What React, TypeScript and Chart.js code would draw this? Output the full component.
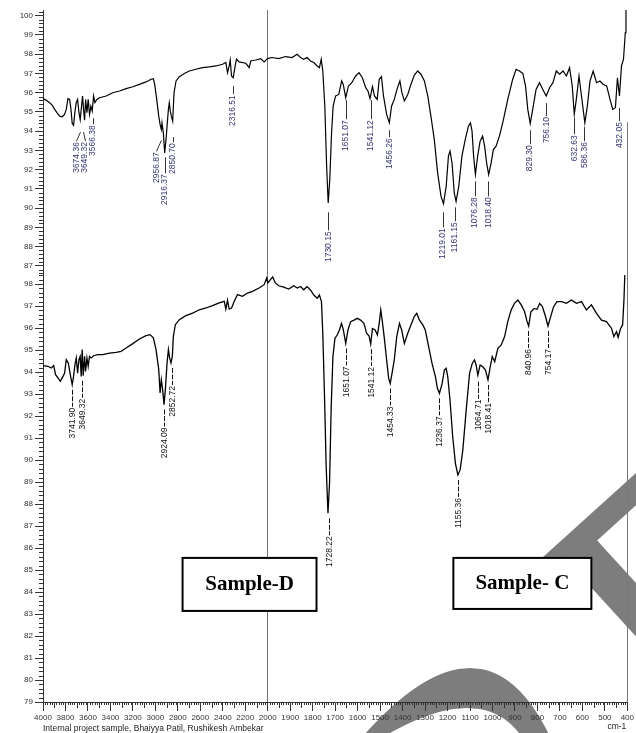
import React, { useEffect, useRef } from 'react';
import { Chart, registerables } from 'chart.js';

Chart.register(...registerables);

// ---------- DATA ----------
const xTickLabels = ['4000','3800','3600','3400','3200','3000','2800','2600','2400','2200','2000','1900','1800','1700','1600','1500','1400','1300','1200','1100','1000','900','800','700','600','500','400'];

// Sample C (upper trace): [wavenumber cm-1, %T]
const sampleCSpectrum: number[][] = [
  [4000,95.69],[3970,95.6],[3941,95.48],[3917,95.34],[3896,95.13],[3876,94.96],[3852,94.78],[3828,94.75],[3808,94.87],[3793,95.13],
  [3778,95.69],[3763,95.65],[3751,95.13],[3740,94.4],[3728,94.3],[3716,95.0],[3704,95.48],[3692,95.65],[3680,94.96],[3669,94.6],
  [3657,95.3],[3648,95.83],[3639,95.13],[3630,94.57],[3621,95.65],[3609,94.96],[3598,95.65],[3586,94.87],[3574,95.3],[3562,95.04],
  [3550,95.83],[3538,95.48],[3521,95.65],[3497,95.74],[3438,95.83],[3379,96.0],[3319,96.09],[3260,96.21],[3201,96.31],[3142,96.43],
  [3083,96.56],[3038,96.7],[3018,96.73],[3006,96.43],[2988,95.65],[2970,94.78],[2958,94.35],[2947,94.09],[2941,94.43],[2929,93.91],
  [2917,92.87],[2905,93.57],[2896,94.26],[2884,95.13],[2876,95.48],[2867,95.04],[2858,94.78],[2846,94.52],[2834,96.0],[2816,96.61],
  [2787,96.83],[2742,97.0],[2698,97.13],[2639,97.22],[2580,97.3],[2520,97.34],[2461,97.39],[2402,97.48],[2373,97.57],[2358,97.04],
  [2343,97.39],[2334,97.7],[2322,96.87],[2307,96.78],[2290,97.39],[2278,97.74],[2254,97.6],[2195,97.53],[2165,97.3],[2151,97.65],
  [2106,97.7],[2062,97.77],[2032,97.6],[2003,97.77],[1981,97.83],[1951,97.77],[1921,97.88],[1892,97.83],[1869,98.0],[1854,97.83],
  [1840,97.74],[1825,97.83],[1810,97.65],[1795,97.57],[1780,97.39],[1770,97.3],[1762,97.74],[1755,97.13],[1746,95.3],[1738,92.17],
  [1731,90.26],[1724,91.48],[1716,93.91],[1709,95.3],[1698,95.83],[1684,95.91],[1671,96.61],[1664,96.43],[1653,95.74],[1641,96.35],
  [1626,96.52],[1609,96.87],[1594,97.04],[1579,96.78],[1564,96.26],[1554,96.09],[1545,95.69],[1534,96.31],[1525,95.83],[1513,95.65],
  [1504,96.7],[1494,96.83],[1485,95.83],[1471,94.87],[1459,94.43],[1449,95.3],[1437,95.65],[1425,96.17],[1412,96.61],[1403,96.0],
  [1392,95.57],[1377,95.91],[1363,96.43],[1348,96.9],[1333,97.13],[1318,96.96],[1303,96.61],[1288,95.83],[1274,94.78],[1259,93.57],
  [1244,91.83],[1229,90.61],[1218,90.23],[1206,91.13],[1196,92.7],[1189,92.96],[1180,92.35],[1170,90.78],[1162,90.35],[1150,91.13],
  [1136,92.7],[1121,93.57],[1107,94.26],[1098,94.43],[1091,94.0],[1084,92.7],[1076,91.74],[1066,92.7],[1055,93.48],[1044,93.74],
  [1035,93.22],[1026,92.35],[1017,91.74],[1006,92.35],[996,93.04],[984,93.22],[969,93.74],[951,94.61],[932,95.65],[910,96.7],
  [895,97.22],[880,97.13],[865,97.0],[853,96.35],[843,95.13],[832,94.4],[821,95.13],[806,96.17],[791,96.52],[776,96.17],
  [761,95.83],[746,96.26],[731,96.52],[716,97.13],[701,96.96],[686,97.13],[671,96.87],[657,97.3],[645,96.35],[636,94.87],
  [627,95.65],[615,96.87],[604,95.83],[589,94.43],[578,95.3],[566,96.61],[552,97.13],[537,96.52],[522,96.61],[507,96.43],
  [492,96.35],[477,95.65],[465,95.13],[453,95.22],[444,96.78],[435,95.83],[426,97.39],[417,97.74],[409,99.13],[406,100.35]
];

// Sample D (lower trace): [wavenumber cm-1, %T]
const sampleDSpectrum: number[][] = [
  [4000,94.29],[3956,94.26],[3926,94.18],[3905,94.29],[3888,93.88],[3867,93.73],[3846,93.58],[3822,93.8],[3808,93.95],[3793,94.56],
  [3775,94.41],[3757,93.88],[3740,93.42],[3728,93.8],[3716,94.33],[3704,94.64],[3692,93.95],[3680,94.56],[3669,94.71],[3660,93.8],
  [3651,95.02],[3642,93.83],[3630,94.71],[3621,94.03],[3609,94.64],[3598,94.26],[3586,94.71],[3571,94.64],[3550,94.74],[3512,94.79],
  [3467,94.79],[3408,94.86],[3349,94.89],[3305,94.94],[3260,95.09],[3201,95.29],[3142,95.5],[3083,95.65],[3047,95.7],[3018,95.55],
  [2994,95.02],[2970,94.11],[2958,93.05],[2947,93.65],[2935,93.2],[2923,92.52],[2911,93.2],[2896,94.41],[2884,95.02],[2873,94.64],
  [2861,94.41],[2849,94.71],[2840,95.62],[2822,96.15],[2787,96.38],[2728,96.56],[2668,96.68],[2609,96.83],[2550,96.91],[2491,97.02],
  [2432,97.14],[2387,97.21],[2373,96.86],[2358,97.26],[2343,96.86],[2322,96.91],[2299,97.21],[2269,97.52],[2225,97.44],[2180,97.59],
  [2136,97.67],[2077,97.82],[2032,97.97],[2009,98.27],[2000,98.05],[1988,98.2],[1978,98.32],[1966,98.05],[1951,97.92],[1929,97.86],
  [1907,97.77],[1884,97.92],[1869,97.82],[1854,97.89],[1840,97.74],[1825,97.88],[1810,97.73],[1795,97.5],[1780,97.35],[1770,97.5],
  [1761,97.2],[1755,95.76],[1747,92.73],[1740,89.7],[1732,87.58],[1725,88.94],[1718,92.27],[1710,94.7],[1701,95.53],[1691,95.68],
  [1681,95.91],[1672,96.21],[1664,95.94],[1653,95.3],[1643,95.91],[1631,96.29],[1616,96.36],[1601,96.44],[1587,96.36],[1572,96.21],
  [1560,95.76],[1549,95.64],[1542,95.27],[1534,95.98],[1522,95.91],[1512,95.68],[1504,96.21],[1497,96.82],[1490,96.29],[1482,95.61],
  [1471,94.55],[1462,93.71],[1455,93.48],[1447,93.94],[1437,94.55],[1426,95.61],[1414,96.21],[1404,95.91],[1392,95.3],[1377,95.76],
  [1363,96.14],[1348,96.52],[1337,96.67],[1325,96.36],[1310,96.14],[1299,95.91],[1284,95.15],[1269,94.39],[1254,93.79],[1245,93.26],
  [1236,93.03],[1224,93.48],[1214,94.09],[1206,94.17],[1199,93.79],[1189,92.73],[1177,91.06],[1165,89.85],[1154,89.32],[1144,89.55],
  [1132,90.45],[1117,92.27],[1102,93.94],[1090,94.39],[1080,94.55],[1073,94.32],[1065,93.86],[1055,94.32],[1043,94.24],[1031,94.09],
  [1020,93.64],[1010,94.24],[1001,94.7],[990,94.47],[976,95.08],[961,95.23],[946,95.61],[932,96.29],[917,96.82],[902,97.12],
  [887,97.27],[872,97.05],[857,96.74],[846,96.29],[839,96.09],[829,96.74],[815,96.89],[802,96.85],[790,97.12],[778,96.97],
  [766,96.59],[753,96.09],[741,96.52],[728,96.97],[713,97.2],[693,97.2],[671,97.12],[649,97.27],[626,97.12],[604,97.2],
  [582,96.82],[560,97.05],[537,96.67],[515,96.36],[493,96.29],[470,95.98],[460,95.61],[448,95.83],[441,95.58],[430,95.98],
  [421,96.14],[415,97.27],[411,98.48]
];

// peak labels, upper trace
const sampleCPeakLabels = ['3674.36','3649.32','3566.38','2956.87','2916.37','2850.70','2316.51','1730.15','1651.07','1541.12','1456.26','1219.01','1161.15','1076.28','1018.40','829.30','756.10','632.63','586.36','432.05'];
const sampleCLabelWn = [3703,3627,3555,2992,2915,2844,2310,1731,1653,1541,1459,1220,1167,1080,1019,835,761,636,592,436];
const sampleCAnchorWn = [3674,3644,3555,2953,2915,2844,2310,1731,1653,1541,1459,1220,1167,1080,1019,835,761,636,592,436];

// peak labels, lower trace
const sampleDPeakLabels = ['3741.90','3649.32','2924.09','2852.72','1728.22','1651.07','1541.12','1454.33','1236.37','1155.36','1064.71','1018.41','840.96','754.17'];
const sampleDPeakT = [93.42,93.83,92.52,94.41,87.58,95.3,95.27,93.48,93.03,89.32,93.79,93.64,96.09,96.09];

// ---------- LAYOUT / STYLE (label placement in axis units) ----------
const sampleCLineTopT = [93.95,93.95,94.68,93.53,92.64,93.69,96.34,89.78,95.61,95.61,94.05,89.78,90.04,91.39,91.39,94.05,95.46,94.68,94.21,95.2];
const sampleCTextTopT = [93.43,93.43,94.31,92.9,91.76,93.37,95.87,88.79,94.57,94.57,93.63,88.95,89.26,90.56,90.56,93.27,94.73,93.79,93.43,94.47];

const SANS = "'Liberation Sans', Arial, Helvetica, sans-serif";
const SERIF = "'Liberation Serif', 'Times New Roman', serif";

function toIdx(wn: number): number {
  return wn >= 2000 ? (4000 - wn) / 200 : 10 + (2000 - wn) / 100;
}

function vLabel(ctx: CanvasRenderingContext2D, text: string, x: number, y: number, font: string, color: string) {
  ctx.save();
  ctx.translate(x, y);
  ctx.rotate(-Math.PI / 2);
  ctx.textAlign = 'right';
  ctx.textBaseline = 'middle';
  ctx.font = font;
  ctx.fillStyle = color;
  ctx.fillText(text, 0, 0);
  ctx.restore();
}

function drawWatermark(ctx: CanvasRenderingContext2D) {
  ctx.save();
  const grey = '#7d7d7d';
  ctx.strokeStyle = grey;
  ctx.fillStyle = grey;
  ctx.lineCap = 'butt';
  // band A
  ctx.lineWidth = 24;
  ctx.beginPath();
  ctx.moveTo(540, 576);
  ctx.lineTo(656, 471);
  ctx.stroke();
  // band B
  ctx.lineWidth = 36;
  ctx.beginPath();
  ctx.moveTo(575, 543);
  ctx.lineTo(660, 636);
  ctx.stroke();
  // arch at the bottom
  const pts: number[][] = [];
  const oc = (y: number) => 470 - 0.2 * (y - 668);
  const ow = (y: number) => Math.sqrt(Math.max(0, 128 * (y - 668)));
  const ic = (y: number) => 467 - 0.5 * (y - 708);
  const iw = (y: number) => Math.sqrt(Math.max(0, 166 * (y - 708)));
  for (let y = 745; y >= 668; y -= 1) pts.push([oc(y) - ow(y), y]);
  for (let y = 668; y <= 745; y += 1) pts.push([oc(y) + ow(y), y]);
  for (let y = 745; y >= 708; y -= 1) pts.push([ic(y) + iw(y), y]);
  for (let y = 708; y <= 745; y += 1) pts.push([ic(y) - iw(y), y]);
  ctx.beginPath();
  pts.forEach(([x, y], i) => (i === 0 ? ctx.moveTo(x, y) : ctx.lineTo(x, y)));
  ctx.closePath();
  ctx.fill();
  ctx.restore();
}

const decorPlugin = {
  id: 'decor',
  beforeDraw(chart: any) {
    drawWatermark(chart.ctx);
  },
  afterDraw(chart: any) {
    const ctx: CanvasRenderingContext2D = chart.ctx;
    const xs = chart.scales.x;
    const yT = chart.scales.yTop;
    const yB = chart.scales.yBot;
    const area = chart.chartArea;
    ctx.save();
    ctx.strokeStyle = '#333';
    ctx.lineWidth = 1;
    // minor y ticks
    [yT, yB].forEach((s: any) => {
      for (let k = Math.ceil(s.min * 5); k <= Math.floor(s.max * 5); k++) {
        if (k % 5 === 0) continue;
        const p = Math.round(s.getPixelForValue(k / 5)) + 0.5;
        ctx.beginPath();
        ctx.moveTo(area.left - 4, p);
        ctx.lineTo(area.left, p);
        ctx.stroke();
      }
    });
    // minor x ticks
    for (let i = 0; i < 26; i++) {
      for (let j = 1; j < 10; j++) {
        const p = Math.round(xs.getPixelForValue(i + j / 10)) + 0.5;
        const len = j === 5 ? 6 : 3;
        ctx.beginPath();
        ctx.moveTo(p, area.bottom);
        ctx.lineTo(p, area.bottom + len);
        ctx.stroke();
      }
    }
    // right frame line
    ctx.strokeStyle = '#7a7a7a';
    const rx = Math.round(xs.getPixelForValue(26)) + 0.5;
    ctx.beginPath();
    ctx.moveTo(rx, yT.getPixelForValue(94.47));
    ctx.lineTo(rx, area.bottom);
    ctx.stroke();

    // upper trace peak labels
    const lf = `8.5px ${SANS}`;
    sampleCPeakLabels.forEach((t, i) => {
      const ax = xs.getPixelForValue(toIdx(sampleCAnchorWn[i]));
      const tx = xs.getPixelForValue(toIdx(sampleCLabelWn[i]));
      const y1 = yT.getPixelForValue(sampleCLineTopT[i]);
      const y2 = yT.getPixelForValue(sampleCTextTopT[i]);
      ctx.strokeStyle = '#333';
      ctx.beginPath();
      ctx.moveTo(Math.round(ax) + 0.5, y1);
      ctx.lineTo(Math.round(tx) + 0.5, y2 - 1);
      ctx.stroke();
      vLabel(ctx, t, tx, y2, lf, '#34346e');
    });

    // lower trace peak labels
    ctx.setLineDash([5, 1.5]);
    sampleDPeakLabels.forEach((t, i) => {
      const x = Math.round(xs.getPixelForValue(toIdx(parseFloat(t)))) + 0.5;
      const py = yB.getPixelForValue(sampleDPeakT[i]);
      ctx.strokeStyle = '#111';
      ctx.beginPath();
      ctx.moveTo(x, py + 5);
      ctx.lineTo(x, py + 22);
      ctx.stroke();
      vLabel(ctx, t, x, py + 23, lf, '#111');
    });
    ctx.setLineDash([]);

    // sample boxes
    const box = (i0: number, i1: number, t0: number, t1: number, text: string) => {
      const x0 = xs.getPixelForValue(i0), x1 = xs.getPixelForValue(i1);
      const y0 = yB.getPixelForValue(t0), y1 = yB.getPixelForValue(t1);
      ctx.fillStyle = '#fff';
      ctx.fillRect(x0, y0, x1 - x0, y1 - y0);
      ctx.strokeStyle = '#000';
      ctx.lineWidth = 2;
      ctx.strokeRect(x0, y0, x1 - x0, y1 - y0);
      ctx.fillStyle = '#000';
      ctx.font = `bold 21px ${SERIF}`;
      ctx.textAlign = 'center';
      ctx.textBaseline = 'middle';
      ctx.fillText(text, (x0 + x1) / 2, (y0 + y1) / 2);
      ctx.lineWidth = 1;
    };
    box(6.21, 12.17, 85.55, 83.14, 'Sample-D');
    box(18.26, 24.4, 85.55, 83.23, 'Sample- C');

    // footer
    ctx.fillStyle = '#222';
    ctx.font = `8.5px ${SANS}`;
    ctx.textBaseline = 'middle';
    ctx.textAlign = 'left';
    ctx.fillText('Internal project sample, Bhaiyya Patil, Rushikesh Ambekar', area.left, area.bottom + 27);
    ctx.textAlign = 'right';
    ctx.fillText('cm-1', area.right - 1, area.bottom + 25);
    ctx.restore();
  },
};

export default function App() {
  const ref = useRef<HTMLCanvasElement | null>(null);
  useEffect(() => {
    if (!ref.current) return;
    const yCommon = (extra: any) => ({
      type: 'linear',
      position: 'left',
      stack: 'spectra',
      offset: false,
      ticks: {
        stepSize: 1,
        autoSkip: false,
        includeBounds: false,
        font: { size: 8, family: SANS },
        color: '#333',
        padding: 2,
      },
      grid: { drawOnChartArea: false, drawTicks: true, tickLength: 8, color: '#333', tickColor: '#333' },
      border: { display: true, color: '#333', width: 1 },
      afterFit: (s: any) => { s.width = 43; },
      ...extra,
    });
    const chart = new Chart(ref.current, {
      type: 'line',
      data: {
        datasets: [
          {
            label: 'Sample C',
            data: sampleCSpectrum.map(([w, t]) => ({ x: toIdx(w), y: t })),
            yAxisID: 'yTop',
            xAxisID: 'x',
            borderColor: '#000',
            borderWidth: 1.2,
            pointRadius: 0,
            tension: 0,
            fill: false,
          },
          {
            label: 'Sample D',
            data: sampleDSpectrum.map(([w, t]) => ({ x: toIdx(w), y: t })),
            yAxisID: 'yBot',
            xAxisID: 'x',
            borderColor: '#000',
            borderWidth: 1.3,
            pointRadius: 0,
            tension: 0,
            fill: false,
          },
        ],
      },
      options: {
        animation: false,
        responsive: false,
        events: [],
        layout: { padding: { top: 10, right: 8, left: 0, bottom: 0 } },
        plugins: { legend: { display: false }, tooltip: { enabled: false } },
        scales: {
          x: {
            type: 'linear',
            position: 'bottom',
            min: 0,
            max: 26,
            ticks: {
              stepSize: 1,
              autoSkip: false,
              maxRotation: 0,
              includeBounds: false,
              font: { size: 8, family: SANS },
              color: '#333',
              padding: 2,
              callback: (v: any) => {
                const n = Number(v);
                return Number.isInteger(n) ? xTickLabels[n] : '';
              },
            },
            grid: {
              drawOnChartArea: true,
              drawTicks: true,
              tickLength: 9,
              tickColor: '#333',
              lineWidth: 1,
              color: (c: any) => (c.tick && c.tick.value === 10 ? 'rgba(90,90,90,0.85)' : 'rgba(0,0,0,0)'),
            },
            border: { display: true, color: '#333', width: 1 },
            afterFit: (s: any) => { s.height = 31; },
          },
          yBot: yCommon({ min: 79, max: 98.41, stackWeight: 427, weight: 0 }),
          yTop: yCommon({ min: 86.52, max: 100.3, stackWeight: 265, weight: 1 }),
        } as any,
      },
      plugins: [decorPlugin],
    } as any);
    return () => chart.destroy();
  }, []);
  return (
    <div style={{ position: 'absolute', left: 0, top: 0, width: 636, height: 733, background: '#fff' }}>
      <canvas ref={ref} width={636} height={733} style={{ display: 'block' }} />
    </div>
  );
}
